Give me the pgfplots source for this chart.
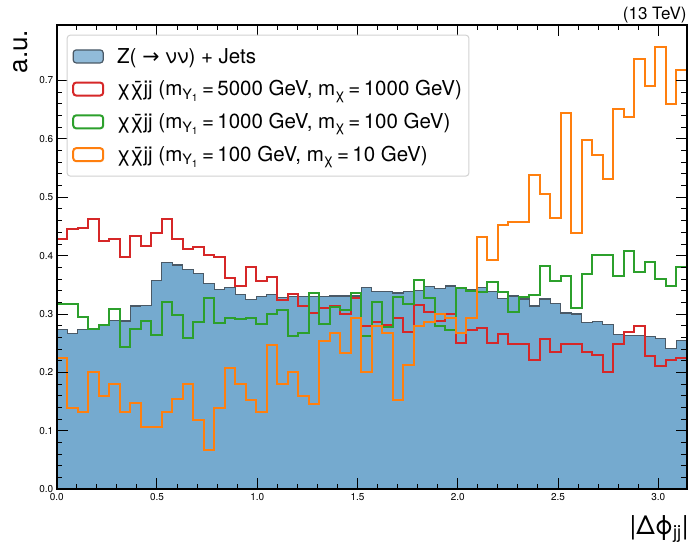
\documentclass[border=0pt]{standalone}
\usepackage{pgfplots}
\pgfplotsset{compat=1.18}
\usepackage{pgfplotstable}
\usepackage{amsmath}
\usepackage{fontspec}
\setmainfont{TeX Gyre Heros}
\newfontfamily\symfont{DejaVu Sans}
\definecolor{bfill}{RGB}{117,170,207}
\definecolor{bedge}{RGB}{74,89,102}
\definecolor{cred}{RGB}{214,39,40}
\definecolor{cgreen}{RGB}{44,160,44}
\definecolor{corange}{RGB}{255,127,14}
\definecolor{lgray}{RGB}{210,210,210}

\pgfplotstableread{
x b r g o
0 0 0 0 0
0.00000 0.273 0.429 0.318 0.225
0.05236 0.2665 0.446 0.318 0.140
0.10472 0.273 0.448 0.295 0.133
0.15708 0.274 0.463 0.274 0.201
0.20944 0.280 0.426 0.282 0.160
0.26180 0.289 0.429 0.308 0.181
0.31416 0.288 0.398 0.244 0.133
0.36652 0.314 0.434 0.274 0.148
0.41888 0.315 0.416 0.289 0.106
0.47124 0.357 0.438 0.265 0.106
0.52360 0.389 0.463 0.320 0.133
0.57596 0.384 0.429 0.298 0.154
0.62832 0.376 0.412 0.259 0.181
0.68068 0.370 0.415 0.287 0.1195
0.73304 0.352 0.402 0.328 0.0667
0.78540 0.342 0.397 0.284 0.140
0.83776 0.345 0.361 0.294 0.208
0.89012 0.333 0.348 0.291 0.181
0.94248 0.325 0.380 0.293 0.153
0.99484 0.3295 0.356 0.283 0.132
1.04720 0.333 0.363 0.300 0.247
1.09956 0.328 0.324 0.307 0.180
1.15192 0.3295 0.334 0.2625 0.201
1.20428 0.3295 0.314 0.268 0.159
1.25664 0.3295 0.302 0.336 0.146
1.30900 0.3295 0.310 0.283 0.254
1.36136 0.331 0.314 0.3125 0.267
1.41372 0.331 0.300 0.307 0.2335
1.46608 0.331 0.328 0.336 0.293
1.51844 0.345 0.280 0.2625 0.201
1.57080 0.338 0.286 0.320 0.2795
1.62316 0.338 0.281 0.278 0.267
1.67552 0.336 0.293 0.329 0.153
1.72788 0.338 0.269 0.317 0.213
1.78024 0.340 0.315 0.3585 0.2795
1.83260 0.347 0.303 0.327 0.286
1.88496 0.344 0.288 0.2795 0.300
1.93732 0.348 0.300 0.273 0.293
1.98968 0.345 0.250 0.345 0.267
2.04204 0.342 0.273 0.339 0.293
2.09440 0.345 0.2756 0.3375 0.4324
2.14675 0.339 0.250 0.3545 0.392
2.19911 0.327 0.266 0.3375 0.4517
2.25147 0.331 0.248 0.3034 0.458
2.30383 0.326 0.249 0.330 0.458
2.35619 0.314 0.221 0.3335 0.539
2.40855 0.326 0.257 0.383 0.505
2.46091 0.3176 0.235 0.357 0.465
2.51327 0.302 0.249 0.366 0.645
2.56563 0.300 0.249 0.310 0.438
2.61799 0.285 0.235 0.3693 0.598
2.67035 0.287 0.230 0.4017 0.572
2.72271 0.282 0.201 0.4017 0.531
2.77507 0.265 0.249 0.366 0.652
2.82743 0.2636 0.269 0.4085 0.638
2.87979 0.2636 0.2795 0.3716 0.737
2.93215 0.261 0.228 0.3886 0.691
2.98451 0.258 0.211 0.360 0.757
3.03687 0.241 0.222 0.3477 0.659
3.08923 0.2545 0.224 0.380 0.7185
3.14159 0.2545 0.224 0.380 0.7185
3.14159 0 0 0 0
}\data

\begin{document}
\begin{tikzpicture}
\begin{axis}[
  scale only axis, width=630pt, height=464.6pt,
  xmin=0, xmax=3.14159, ymin=0, ymax=0.7955,
  xtick={0,0.5,1,1.5,2,2.5,3},
  ytick={0,0.1,0.2,0.3,0.4,0.5,0.6,0.7},
  minor x tick num=4, minor y tick num=4,
  tick align=inside, tick pos=both,
  major tick length=11pt, minor tick length=5.5pt,
  every tick/.style={black, line width=1pt},
  axis line style={line width=2pt},
  axis on top,
  ticklabel style={font=\fontsize{10}{12}\selectfont},
  xticklabel style={yshift=-1pt},
  /pgf/number format/.cd, fixed, fixed zerofill, precision=1, assume math mode=true,
  /pgfplots/.cd,
  legend image code/.code={\draw[#1] (0pt,-6.5pt) rectangle (30pt,6.5pt);},
  legend style={at={(0,1)}, anchor=north west, xshift=10pt, yshift=-10pt,
    draw=lgray, line width=1pt, rounded corners=3pt, fill=white, fill opacity=0.8, text opacity=1,
    font=\fontsize{20.5}{24}\selectfont, inner xsep=5pt, inner ysep=11pt,
    row sep=12pt, column sep=11pt, cells={anchor=west}},
  legend cell align=left,
]
\addplot[fill=bfill, draw=bedge, line width=1.2pt, const plot mark left, mark=none] table[x=x,y=b]{\data};
\addlegendentry{Z( {\symfont→} νν) + Jets}
\addplot[draw=cred, line width=2pt, const plot mark left, mark=none] table[x=x,y=r]{\data};
\addlegendentry{χ\={χ}jj (m$_{\text{Y}_\text{1}}$\,=\,5000 GeV, m$_\text{χ}$\,=\,1000 GeV)}
\addplot[draw=cgreen, line width=2pt, const plot mark left, mark=none] table[x=x,y=g]{\data};
\addlegendentry{χ\={χ}jj (m$_{\text{Y}_\text{1}}$\,=\,1000 GeV, m$_\text{χ}$\,=\,100 GeV)}
\addplot[draw=corange, line width=2pt, const plot mark left, mark=none] table[x=x,y=o]{\data};
\addlegendentry{χ\={χ}jj (m$_{\text{Y}_\text{1}}$\,=\,100 GeV, m$_\text{χ}$\,=\,10 GeV)}
\end{axis}
\node[anchor=base east, inner sep=0pt, font=\fontsize{17}{19}\selectfont] at ([yshift=5.4pt]current axis.north east) {(13 TeV)};
\node[anchor=base east, rotate=90, inner sep=0pt, font=\fontsize{26}{30}\selectfont] at ([xshift=-29pt,yshift=-5pt]current axis.north west) {a.u.};
\node[anchor=base east, inner sep=0pt, font=\fontsize{26}{30}\selectfont] at ([yshift=-45pt,xshift=2pt]current axis.south east) {|Δϕ$_\text{jj}$|};
\path[use as bounding box] ([xshift=-56.7pt,yshift=-61.7pt]current axis.south west) rectangle ([xshift=8.3pt,yshift=24.7pt]current axis.north east);
\end{tikzpicture}
\end{document}
